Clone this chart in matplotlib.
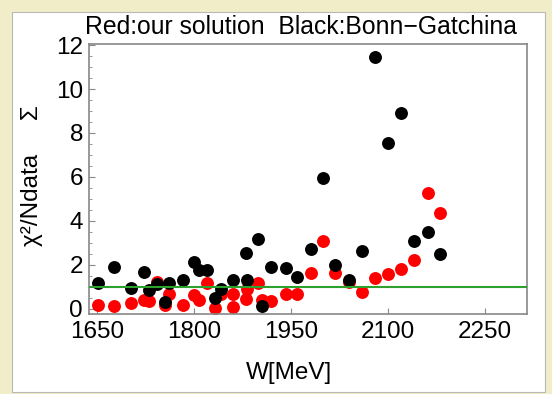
import numpy as np
import matplotlib.pyplot as plt
from matplotlib.patches import Rectangle
from matplotlib.ticker import MultipleLocator

# valores
w_black = [1651, 1677, 1703, 1723, 1730, 1743, 1756, 1762, 1784, 1801, 1808,
           1821, 1833, 1842, 1861, 1881, 1883, 1900, 1906, 1920, 1942, 1960,
           1981, 2000, 2019, 2041, 2060, 2081, 2100, 2121, 2141, 2162, 2181]
chi_black = [1.17, 1.87, 0.93, 1.68, 0.84, 1.12, 0.29, 1.17, 1.31, 2.13, 1.75,
             1.75, 0.46, 0.91, 1.32, 2.51, 1.32, 3.18, 0.12, 1.88, 1.83, 1.42,
             2.69, 5.95, 1.96, 1.32, 2.63, 11.46, 7.53, 8.89, 3.06, 3.50, 2.49]

w_red = [1651, 1677, 1703, 1723, 1730, 1743, 1756, 1762, 1784, 1801, 1808,
         1821, 1833, 1842, 1861, 1861, 1881, 1883, 1900, 1906, 1920, 1942,
         1960, 1981, 2000, 2019, 2041, 2060, 2081, 2100, 2121, 2141, 2162, 2181]
chi_red = [0.18, 0.11, 0.23, 0.40, 0.32, 1.20, 0.17, 0.64, 0.17, 0.60, 0.38,
           1.17, 0.02, 0.68, 0.66, 0.08, 0.43, 0.91, 1.17, 0.38, 0.33, 0.64,
           0.66, 1.60, 3.06, 1.63, 1.20, 0.77, 1.40, 1.57, 1.78, 2.21, 5.25, 4.34]

ref_level = 1.0
x_ticks = [1650, 1800, 1950, 2100, 2250]
y_ticks = [0, 2, 4, 6, 8, 10, 12]

plt.rcParams['font.family'] = ['Liberation Sans', 'DejaVu Sans']

fig = plt.figure(figsize=(5.52, 3.94), dpi=100)
fig.patch.set_facecolor('#f1edc8')
# painel branco interno (atrás dos eixos)
fig.patches.append(Rectangle((12 / 552, 2 / 394), 533 / 552, 380 / 394,
                             transform=fig.transFigure, facecolor='white',
                             edgecolor='#b8b8b8', lw=0.8, zorder=-5))

ax = fig.add_axes([88.5 / 552, 80 / 394, 438 / 552, 270 / 394])
ax.plot(w_red, chi_red, 'o', color='red', ms=9.3, mew=0, zorder=2)
ax.plot(w_black, chi_black, 'o', color='black', ms=9.3, mew=0, zorder=2.5)
ax.axhline(ref_level, color='#2ea02e', lw=1.5, zorder=3)

ax.set_xlim(1637, 2315)
ax.set_ylim(-0.25, 12.05)
ax.set_xticks(x_ticks)
ax.set_yticks(y_ticks)
ax.yaxis.set_minor_locator(MultipleLocator(0.5))
ax.tick_params(axis='both', which='major', direction='in', length=4,
               color='#888888', labelsize=17.5)
ax.tick_params(axis='y', which='minor', direction='in', length=2, color='#888888')
ax.tick_params(axis='x', pad=5)
ax.tick_params(axis='y', pad=4)
for s in ax.spines.values():
    s.set_color('#888888')
    s.set_linewidth(1.2)

ax.set_xlabel('W[MeV]', fontsize=17.5)
ax.xaxis.set_label_coords(0.458, -0.218)
ax.xaxis.label.set_va('center')
ax.set_ylabel('χ²/Ndata     Σ', fontsize=17.5)
ax.yaxis.set_label_coords(-0.129, 0.513)
ax.yaxis.label.set_va('center')

fig.text(85 / 552, 1 - 34 / 394, 'Red:our solution  Black:Bonn\u2212Gatchina',
         fontsize=17.8, ha='left', va='baseline')

plt.savefig('out.png', dpi=100)
